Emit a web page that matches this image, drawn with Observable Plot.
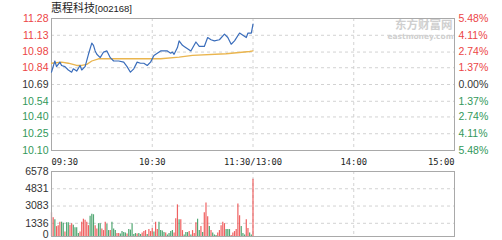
<!DOCTYPE html>
<html>
<head>
<meta charset="utf-8">
<script src="https://cdn.jsdelivr.net/npm/d3@7"></script>
<script src="https://cdn.jsdelivr.net/npm/@observablehq/plot@0.6"></script>
<style>
  body { margin: 0; background: #fff; }
  #chart { position: relative; width: 502px; height: 240px; overflow: hidden; font-family: "Liberation Sans", Arial, sans-serif; }
  #title { position: absolute; left: 51px; top: 0; font-size: 11px; line-height: 14px; color: #222; font-family: "Noto Sans CJK SC", sans-serif; white-space: nowrap; }
  #title span { font-family: "Liberation Sans", Arial, sans-serif; font-size: 9.5px; }
  #price, #volume { position: absolute; left: 0; }
  #price { top: 0; }
  #volume { top: 166px; }
</style>
</head>
<body>
<div id="chart">
  <div id="price"></div>
  <div id="volume"></div>
  <div id="title">惠程科技<span>[002168]</span></div>
</div>
<script>
// Intraday quote for 惠程科技 (002168), morning session, one slot per minute from 09:30.
const priceMinutes = [0,2,3,5,6,8,10,12,13,15,17,18,20,22,24,25,26,27,29,31,33,35,37,40,43,45,47,49,51,53,55,57,59,61,63,65,67,69,71,72,73,75,76,78,79,81,83,86,88,91,93,95,97,100,103,105,107,109,112,114,116,117,119,120];
const prices = [10.80,10.90,10.85,10.89,10.86,10.85,10.82,10.80,10.83,10.81,10.86,10.82,10.85,10.96,11.06,11.04,10.99,10.96,10.93,10.98,10.99,10.93,10.90,10.90,10.89,10.85,10.80,10.83,10.89,10.88,10.88,10.86,10.89,10.95,10.97,10.99,10.99,10.99,10.97,10.98,10.96,11.02,11.08,11.04,11.03,11.01,10.99,11.07,11.03,11.03,11.11,11.09,11.08,11.09,11.14,11.11,11.05,11.08,11.15,11.13,11.11,11.15,11.15,11.23];

// Running average price
const avgMinutes = [0,6,10,15,18,21,24,28,58,65,76,84,104,118,120];
const avgPrices = [10.88,10.89,10.88,10.86,10.86,10.87,10.90,10.92,10.92,10.92,10.935,10.95,10.965,10.985,10.99];

// Per-minute volume (lots) and direction (1 = up tick, 0 = down tick)
const volumes = [2400,1900,1700,1000,1100,1450,1450,1350,450,1400,1400,1150,1300,1150,880,880,300,450,1450,1750,1650,1450,1100,2050,2250,2200,1100,750,1300,1300,750,600,1450,1250,600,600,1450,750,600,300,
  300,250,500,400,350,250,700,650,1300,200,300,250,300,200,350,500,600,200,700,500,800,450,1450,700,1450,
  600,550,400,350,150,300,500,600,350,1800,3200,1700,1700,600,150,400,400,500,150,600,300,1400,1750,600,1000,400,2400,3400,2000,1000,600,350,150,100,350,600,1100,1450,1300,700,700,700,100,350,500,700,3300,2100,1000,300,150,1700,800,350,150,5800];
const volDir = [1,1,0,1,1,1,0,0,1,0,0,1,1,0,0,0,0,1,1,1,1,1,1,0,0,0,1,1,0,0,1,1,1,0,0,1,0,0,0,1,
  1,0,0,0,0,1,0,0,0,0,0,1,0,0,1,1,1,0,1,1,1,0,1,1,0,
  0,0,0,1,0,0,0,0,1,1,1,0,1,1,0,0,0,1,0,1,1,1,0,0,1,0,1,1,1,0,1,0,0,0,1,1,1,1,1,0,0,0,1,1,1,1,1,1,0,0,0,1,1,0,0,1];

// Axis ticks
const prevClose = 10.69;
const priceTicks = [11.28, 11.13, 10.98, 10.84, 10.69, 10.54, 10.40, 10.25, 10.10];
const priceTickLabels = ["11.28","11.13","10.98","10.84","10.69","10.54","10.40","10.25","10.10"];
const pctTickLabels = ["5.48%","4.11%","2.74%","1.37%","0.00%","1.37%","2.74%","4.11%","5.48%"];
const volTicks = [6578, 4831, 3083, 1336, 0];
const volTickLabels = ["6578","4831","3083","1336","0"];
const timeTicks = [0, 60, 120, 180, 240];
const timeTickLabels = ["09:30","10:30","11:30/13:00","14:00","15:00"];

const RED = "#ec4545", GREEN = "#32985a", NEUTRAL = "#333";
const GRID = "#d2d2d2", FRAME = "#a9a9a9";
const tickColor = v => v > prevClose + 1e-9 ? RED : v < prevClose - 1e-9 ? GREEN : NEUTRAL;

const priceLine = priceMinutes.map((m, i) => ({m, p: prices[i]}));
const avgLine = avgMinutes.map((m, i) => ({m, p: avgPrices[i]}));
const volData = volumes.map((v, i) => ({m: i, v, up: volDir[i]}));
const priceTickData = priceTicks.map((v, i) => ({v, label: priceTickLabels[i], pct: pctTickLabels[i]}));
const volTickData = volTicks.map((v, i) => ({v, label: volTickLabels[i]}));
const timeTickData = timeTicks.map((t, i) => ({t, label: timeTickLabels[i]}));

const fontStyle = {fontFamily: "'Liberation Sans', Arial, sans-serif", fontSize: "10.5px", background: "transparent", overflow: "visible"};
const X = {domain: [0, 240], axis: null};
const timeText = {x: "t", text: "label", frameAnchor: "bottom", lineAnchor: "middle", dy: 11.5, fill: "#222", fontFamily: "DejaVu Sans Mono", fontSize: 8.8};

const price = Plot.plot({
  width: 502, height: 166,
  marginTop: 18, marginBottom: 16, marginLeft: 51, marginRight: 48,
  x: X,
  y: {domain: [10.10, 11.28], axis: null},
  style: fontStyle,
  marks: [
    Plot.ruleY(priceTicks.slice(1, -1), {stroke: GRID, strokeDasharray: "3,3"}),
    Plot.ruleX(timeTicks.slice(1, -1), {stroke: GRID, strokeDasharray: "3,3"}),
    Plot.text(["东方财富网"], {frameAnchor: "top-right", textAnchor: "end", lineAnchor: "middle", dx: -2, dy: 7, fill: "#cfcfcf", fontSize: 11.5, fontWeight: "bold", fontFamily: "Noto Sans CJK SC"}),
    Plot.text(["eastmoney.com"], {frameAnchor: "top-right", textAnchor: "end", lineAnchor: "middle", dx: -1, dy: 18.5, fill: "#cfcfcf", fontSize: 7.5, fontWeight: "bold", fontFamily: "DejaVu Sans"}),
    Plot.frame({stroke: FRAME}),
    Plot.line(avgLine, {x: "m", y: "p", stroke: "#eab54e", strokeWidth: 1.3}),
    Plot.line(priceLine, {x: "m", y: "p", stroke: "#3a6dbb", strokeWidth: 1.2}),
    Plot.text(priceTickData, {y: "v", text: "label", frameAnchor: "left", textAnchor: "end", dx: -3, fill: d => tickColor(d.v)}),
    Plot.text(priceTickData, {y: "v", text: "pct", frameAnchor: "right", textAnchor: "start", dx: 4, fill: d => tickColor(d.v)}),
    Plot.text(timeTickData.slice(0, 1), {...timeText, textAnchor: "start"}),
    Plot.text(timeTickData.slice(1, -1), {...timeText, textAnchor: "middle"}),
    Plot.text(timeTickData.slice(-1), {...timeText, textAnchor: "end"})
  ]
});
document.getElementById("price").append(price);

const volume = Plot.plot({
  width: 502, height: 74,
  marginTop: 5, marginBottom: 4, marginLeft: 51, marginRight: 48,
  x: X,
  y: {domain: [0, 6578], axis: null},
  color: {domain: [1, 0], range: [RED, GREEN]},
  style: fontStyle,
  marks: [
    Plot.ruleY(volTicks.slice(1, -1), {stroke: GRID, strokeDasharray: "3,3"}),
    Plot.ruleX(timeTicks.slice(1, -1), {stroke: GRID, strokeDasharray: "3,3"}),
    Plot.ruleX(volData, {x: "m", y1: 0, y2: "v", stroke: "up", strokeWidth: 1.2, strokeOpacity: 0.85}),
    Plot.frame({stroke: FRAME}),
    Plot.text(volTickData.slice(0, -1), {y: "v", text: "label", frameAnchor: "left", textAnchor: "end", dx: -3, fill: NEUTRAL}),
    Plot.text(volTickData.slice(-1), {y: "v", text: "label", frameAnchor: "left", textAnchor: "end", lineAnchor: "bottom", dx: -3, dy: 1.2, fill: NEUTRAL})
  ]
});
document.getElementById("volume").append(volume);
</script>
</body>
</html>
